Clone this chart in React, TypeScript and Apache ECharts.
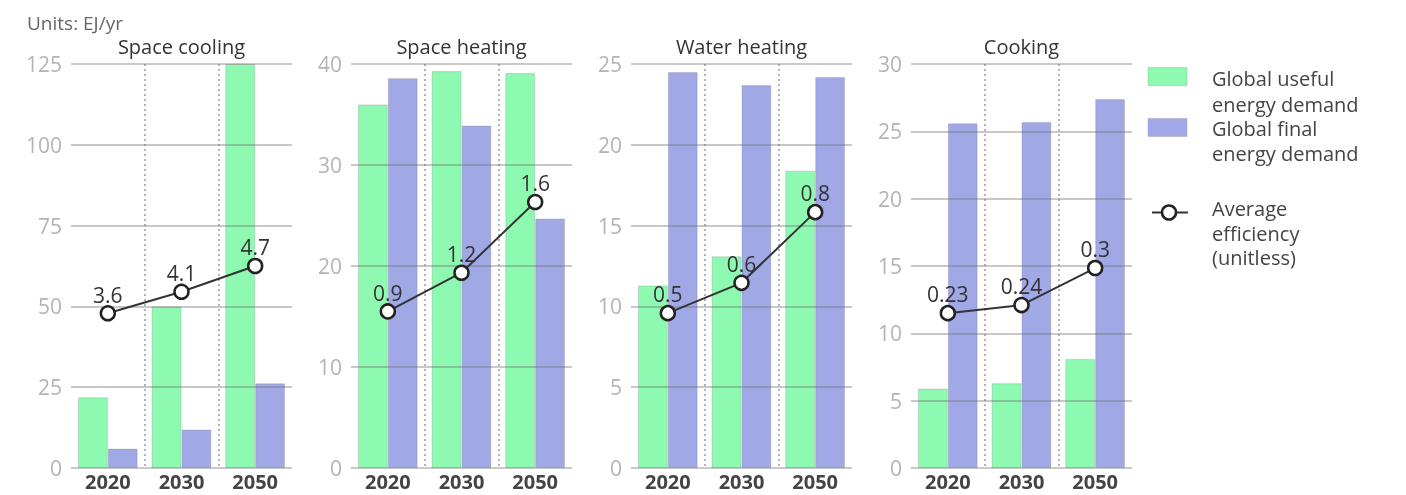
import { useEffect, useRef } from 'react';
import * as echarts from 'echarts';

const YEARS = ['2020', '2030', '2050'];
const PANEL_TITLES = ['Space cooling', 'Space heating', 'Water heating', 'Cooking'];

const USEFUL_SPACE_COOLING = [21.9, 50.0, 125.0];
const FINAL_SPACE_COOLING = [6.0, 11.9, 26.2];
const EFF_SPACE_COOLING = [3.6, 4.1, 4.7];
const EFF_LABELS_SPACE_COOLING = ['3.6', '4.1', '4.7'];

const USEFUL_SPACE_HEATING = [36.0, 39.3, 39.1];
const FINAL_SPACE_HEATING = [38.6, 33.9, 24.7];
const EFF_SPACE_HEATING = [0.93, 1.16, 1.58];
const EFF_LABELS_SPACE_HEATING = ['0.9', '1.2', '1.6'];

const USEFUL_WATER_HEATING = [11.3, 13.1, 18.4];
const FINAL_WATER_HEATING = [24.5, 23.7, 24.2];
const EFF_WATER_HEATING = [0.46, 0.55, 0.76];
const EFF_LABELS_WATER_HEATING = ['0.5', '0.6', '0.8'];

const USEFUL_COOKING = [5.9, 6.3, 8.1];
const FINAL_COOKING = [25.6, 25.7, 27.4];
const EFF_COOKING = [0.23, 0.242, 0.297];
const EFF_LABELS_COOKING = ['0.23', '0.24', '0.3'];

const Y_MAX = [125, 40, 25, 30];
const Y_INTERVAL = [25, 10, 5, 5];
const EFF_AXIS_MAX = [9.4, 2.4, 1.2, 0.6];

const UNITS_TEXT = 'Units: EJ/yr';
const LEGEND_USEFUL = ['Global useful', 'energy demand'];
const LEGEND_FINAL = ['Global final', 'energy demand'];
const LEGEND_EFF = ['Average', 'efficiency', '(unitless)'];

const USEFUL = [USEFUL_SPACE_COOLING, USEFUL_SPACE_HEATING, USEFUL_WATER_HEATING, USEFUL_COOKING];
const FINAL = [FINAL_SPACE_COOLING, FINAL_SPACE_HEATING, FINAL_WATER_HEATING, FINAL_COOKING];
const EFF = [EFF_SPACE_COOLING, EFF_SPACE_HEATING, EFF_WATER_HEATING, EFF_COOKING];
const EFF_LABELS = [EFF_LABELS_SPACE_COOLING, EFF_LABELS_SPACE_HEATING, EFF_LABELS_WATER_HEATING, EFF_LABELS_COOKING];

const GREEN = '#8ef9b0';
const BLUE = '#a0a8e6';
const FONT = '"Open Sans", sans-serif';

export default function App() {
  const ref = useRef<HTMLDivElement>(null);
  useEffect(() => {
    const chart = echarts.init(ref.current!, null, { renderer: 'svg' });
    const PANEL_LEFT = 71;
    const PANEL_STEP = 280;
    const PANEL_W = 221;
    const TOP = 64;
    const H = 404;

    const grids: any[] = [];
    const xAxes: any[] = [];
    const yAxes: any[] = [];
    const series: any[] = [];
    const graphics: any[] = [];

    for (let i = 0; i < 4; i++) {
      const left = PANEL_LEFT + PANEL_STEP * i;
      grids.push({ left, top: TOP, width: PANEL_W, height: H, containLabel: false });
      xAxes.push({
        type: 'category',
        gridIndex: i,
        data: YEARS,
        axisLine: { show: false },
        axisTick: { show: false },
        axisLabel: { color: '#444', fontSize: 20, fontWeight: 'bold', fontFamily: FONT, margin: 3 },
        splitLine: {
          show: true,
          showMinLine: false,
          showMaxLine: false,
          lineStyle: { color: '#9a9a9a', width: 1.5, type: [2, 3] },
        },
      });
      yAxes.push({
        type: 'value',
        gridIndex: i,
        min: 0,
        max: Y_MAX[i],
        interval: Y_INTERVAL[i],
        z: 4,
        axisLine: { show: false },
        axisTick: { show: false },
        axisLabel: { color: '#b4b4b4', fontSize: 21, fontFamily: FONT, margin: 9 },
        splitLine: { show: true, lineStyle: { color: 'rgba(110,110,110,0.38)', width: 2 } },
      });
      graphics.push({
        type: 'text',
        x: left + PANEL_W / 2,
        y: 46.5,
        style: { text: PANEL_TITLES[i], fill: '#333', fontSize: 20, fontFamily: FONT, align: 'center', verticalAlign: 'middle' },
      });
    }
    for (let i = 0; i < 4; i++) {
      yAxes.push({ type: 'value', gridIndex: i, min: 0, max: EFF_AXIS_MAX[i], show: false, splitLine: { show: false } });
    }
    for (let i = 0; i < 4; i++) {
      series.push({
        type: 'bar',
        name: 'Global useful energy demand',
        xAxisIndex: i,
        yAxisIndex: i,
        data: USEFUL[i],
        barGap: '0%',
        barCategoryGap: '19%',
        itemStyle: { color: GREEN, borderColor: 'rgba(120,120,120,0.25)', borderWidth: 1 },
        z: 2,
      });
      series.push({
        type: 'bar',
        name: 'Global final energy demand',
        xAxisIndex: i,
        yAxisIndex: i,
        data: FINAL[i],
        barGap: '0%',
        barCategoryGap: '19%',
        itemStyle: { color: BLUE, borderColor: 'rgba(120,120,120,0.25)', borderWidth: 1 },
        z: 2,
      });
      const labels = EFF_LABELS[i];
      series.push({
        type: 'line',
        name: 'Average efficiency (unitless)',
        xAxisIndex: i,
        yAxisIndex: 4 + i,
        data: EFF[i],
        symbol: 'circle',
        symbolSize: 14,
        z: 6,
        lineStyle: { color: '#333', width: 2 },
        itemStyle: { color: '#fff', borderColor: '#222', borderWidth: 2.5 },
        label: {
          show: true,
          position: 'top',
          distance: 0,
          color: '#333',
          fontSize: 21,
          fontFamily: FONT,
          formatter: (p: any) => labels[p.dataIndex],
        },
      });
    }

    // Units note
    graphics.push({
      type: 'text',
      x: 27,
      y: 23,
      style: { text: UNITS_TEXT, fill: '#666', fontSize: 19, fontFamily: FONT, align: 'left', verticalAlign: 'middle' },
    });

    // Legend (drawn)
    const LX = 1148;
    const TX = 1212;
    const legendText = (t: string, y: number) => ({
      type: 'text',
      x: TX,
      y,
      style: { text: t, fill: '#444', fontSize: 20, fontFamily: FONT, align: 'left', verticalAlign: 'middle' },
    });
    graphics.push({ type: 'rect', shape: { x: LX, y: 67.5, width: 39, height: 18 }, style: { fill: GREEN, stroke: 'rgba(120,120,120,0.25)', lineWidth: 1 } });
    graphics.push(legendText(LEGEND_USEFUL[0], 78.5));
    graphics.push(legendText(LEGEND_USEFUL[1], 104.5));
    graphics.push({ type: 'rect', shape: { x: LX, y: 118.5, width: 39, height: 18 }, style: { fill: BLUE, stroke: 'rgba(120,120,120,0.25)', lineWidth: 1 } });
    graphics.push(legendText(LEGEND_FINAL[0], 128.7));
    graphics.push(legendText(LEGEND_FINAL[1], 153.4));
    graphics.push({ type: 'line', shape: { x1: 1152, y1: 212.5, x2: 1188, y2: 212.5 }, style: { stroke: '#333', lineWidth: 2 } });
    graphics.push({ type: 'circle', shape: { cx: 1169, cy: 212.5, r: 7 }, style: { fill: '#fff', stroke: '#222', lineWidth: 2.5 } });
    graphics.push(legendText(LEGEND_EFF[0], 208.3));
    graphics.push(legendText(LEGEND_EFF[1], 233));
    graphics.push(legendText(LEGEND_EFF[2], 257.7));

    chart.setOption({
      animation: false,
      textStyle: { fontFamily: FONT },
      grid: grids,
      xAxis: xAxes,
      yAxis: yAxes,
      series,
      graphic: graphics,
    });
    return () => chart.dispose();
  }, []);
  return <div ref={ref} style={{ position: 'fixed', left: 0, top: 0, width: 1406, height: 495 }} />;
}
